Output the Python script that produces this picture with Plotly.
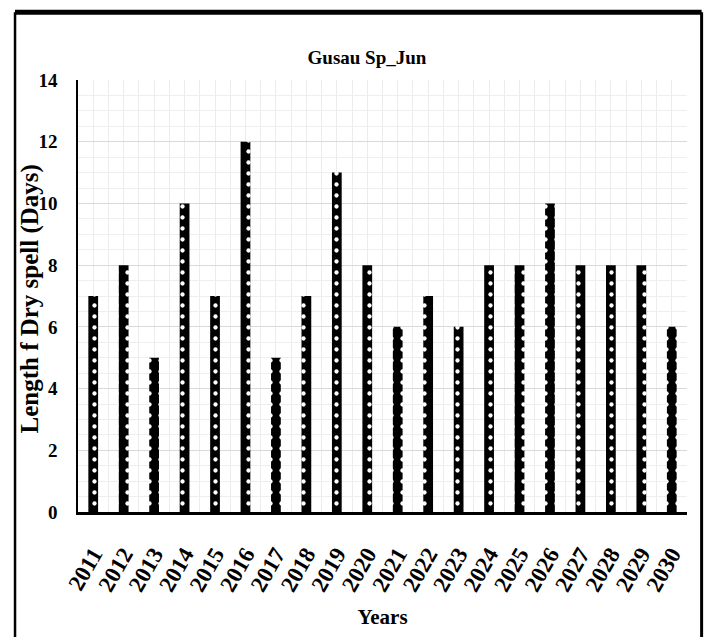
import plotly.graph_objects as go

years = [2011, 2012, 2013, 2014, 2015, 2016, 2017, 2018, 2019, 2020,
         2021, 2022, 2023, 2024, 2025, 2026, 2027, 2028, 2029, 2030]
dry_spell_days = [7, 8, 5, 10, 7, 12, 5, 7, 11, 8,
                  6, 7, 6, 8, 8, 10, 8, 8, 8, 6]
year_labels = [str(y) for y in years]

SERIF = "Liberation Serif"

fig = go.Figure()
fig.add_trace(go.Bar(
    x=years,
    y=dry_spell_days,
    width=0.32,
    marker=dict(
        color="black",
        line=dict(width=0),
        pattern=dict(shape=".", bgcolor="black", fgcolor="white",
                     size=11, solidity=0.12, fillmode="replace"),
    ),
    showlegend=False,
))

fig.update_layout(
    width=712, height=637,
    margin=dict(l=78, r=25, t=80, b=125),
    paper_bgcolor="white",
    plot_bgcolor="white",
    font=dict(family=SERIF, color="black"),
    title=dict(text="<b>Gusau Sp_Jun</b>", x=0.5154, xref="container", xanchor="center",
               y=0.9105, yref="container", yanchor="middle",
               font=dict(family=SERIF, size=19, color="black")),
)

fig.update_xaxes(
    range=[2010.5, 2030.5],
    tickmode="array", tickvals=years, ticktext=year_labels,
    tickangle=-60,
    tickfont=dict(family=SERIF, size=23, color="black", weight="bold"),
    showgrid=True, gridcolor="#ececec", gridwidth=1,
    minor=dict(dtick=0.5, tick0=2010.5, showgrid=True, gridcolor="#ececec", gridwidth=1),
    showline=True, linecolor="black", linewidth=2.5,
    ticks="", zeroline=False, ticklabelstandoff=17, automargin=False,
    title=dict(text="Years", standoff=15,
               font=dict(family=SERIF, size=21, color="black", weight="bold")),
)

fig.update_yaxes(
    range=[0, 14], dtick=2,
    tickfont=dict(family=SERIF, size=19, color="black", weight="bold"),
    showgrid=True, gridcolor="#d9d9d9", gridwidth=1,
    minor=dict(dtick=0.5, showgrid=True, gridcolor="#eeeeee", gridwidth=1),
    showline=True, linecolor="black", linewidth=1.5,
    ticks="", zeroline=False, ticklabelstandoff=15, automargin=False,
)

# y-axis title placed as a rotated annotation
fig.add_annotation(text="<b>Length f Dry spell (Days)</b>", textangle=-90,
                   xref="paper", yref="paper", x=-0.078, y=0.493,
                   xanchor="center", yanchor="middle", showarrow=False,
                   font=dict(family=SERIF, size=25, color="black"))

# outer frame around the chart
fx0, fx1, fy0, fy1 = -0.1034, 1.024, -0.35, 1.157
for (a, b, c, d, w) in [(fx0, fx0, fy0, fy1, 2.5), (fx1, fx1, fy0, fy1, 3),
                        (fx0, fx1, fy1, fy1, 5)]:
    fig.add_shape(type="line", xref="paper", yref="paper",
                  x0=a, x1=b, y0=c, y1=d,
                  line=dict(color="black", width=w), layer="above")

fig.write_html("out.html")
